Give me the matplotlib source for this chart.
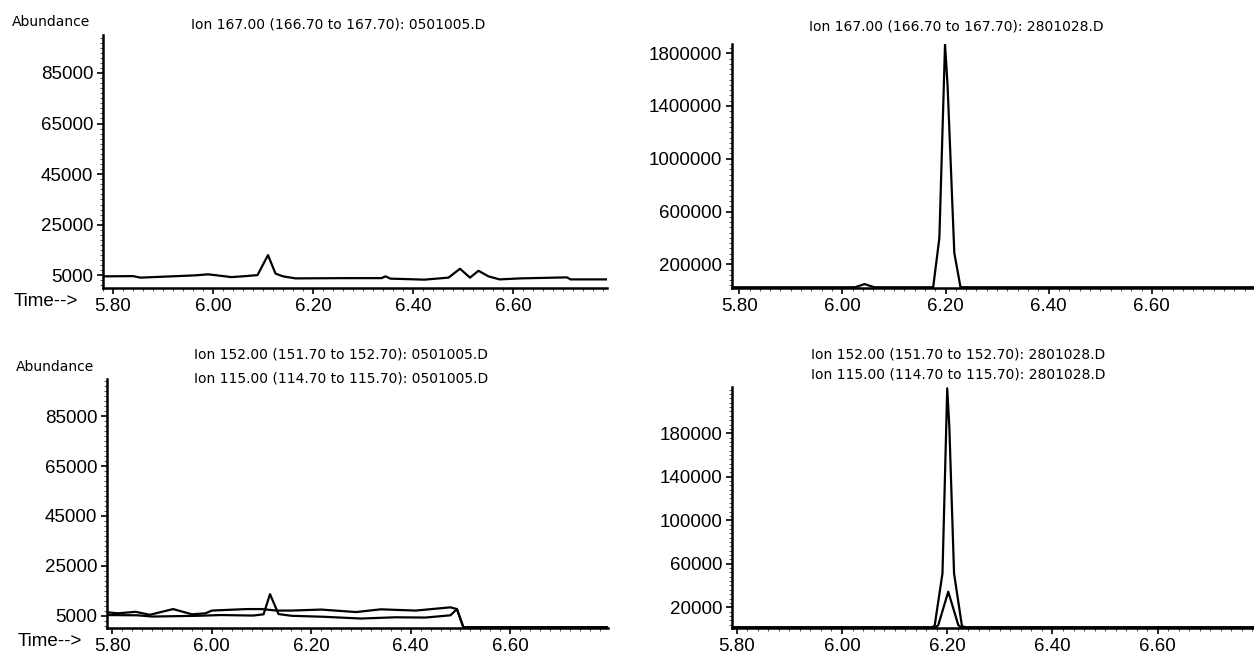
import numpy as np
import matplotlib
matplotlib.use('Agg')
import matplotlib.pyplot as plt
from matplotlib.ticker import MultipleLocator, FixedLocator, FuncFormatter

# ── data ──────────────────────────────────────────────────────
# top-left: ion 167, 0501005.D
t1 = [5.780, 5.840, 5.855, 5.965, 5.990, 6.008, 6.037, 6.065, 6.089, 6.110, 6.125,
      6.140, 6.165, 6.265, 6.337, 6.345, 6.355, 6.423, 6.471, 6.494, 6.514, 6.531,
      6.551, 6.573, 6.615, 6.708, 6.715, 6.788]
v1 = [4600, 4700, 4100, 5000, 5400, 5000, 4300, 4700, 5100, 13000, 5700,
      4600, 3800, 3900, 3900, 4600, 3700, 3300, 4100, 7600, 4100, 6800,
      4600, 3400, 3800, 4200, 3400, 3400]

# top-right: ion 167, 2801028.D
t2 = [5.786, 6.025, 6.034, 6.043, 6.052, 6.062, 6.176, 6.188, 6.199, 6.204, 6.217, 6.229, 6.798]
v2 = [25800, 25800, 38000, 50000, 38000, 25800, 25800, 397000, 1868000, 1550000, 286000, 25800, 25800]

# bottom-left: ions 152 / 115, 0501005.D
t3a = [5.789, 5.850, 5.880, 5.971, 6.018, 6.083, 6.104, 6.117, 6.134, 6.160, 6.226,
       6.300, 6.369, 6.430, 6.480, 6.493, 6.506, 6.797]
v3a = [5200, 5100, 4600, 4900, 5200, 5000, 5500, 13600, 5600, 4900, 4500,
       3800, 4300, 4200, 5100, 7600, 300, 300]
t3b = [5.789, 5.811, 5.847, 5.875, 5.922, 5.960, 5.987, 6.000, 6.070, 6.100, 6.130,
       6.160, 6.220, 6.290, 6.340, 6.410, 6.480, 6.493, 6.506, 6.797]
v3b = [6300, 5900, 6500, 5300, 7600, 5500, 5900, 7000, 7600, 7600, 7000,
       7000, 7400, 6400, 7500, 7000, 8300, 7600, 300, 300]

# bottom-right: ions 152 / 115, 2801028.D
t4a = [5.791, 6.170, 6.176, 6.191, 6.200, 6.204, 6.213, 6.228, 6.235, 6.783]
v4a = [1500, 1500, 2700, 51200, 221300, 186000, 51000, 2700, 1500, 1500]
t4b = [5.791, 6.178, 6.183, 6.202, 6.221, 6.226, 6.783]
v4b = [1500, 1500, 3600, 34300, 3600, 1500, 1500]

ticks_small = [5000, 25000, 45000, 65000, 85000]
ticks_tr = [200000, 600000, 1000000, 1400000, 1800000]
ticks_br = [20000, 60000, 100000, 140000, 180000]

W, H = 1254, 655
TICK_FONT = dict(family='Liberation Sans', size=13.5)
TEXT_FONT = dict(family='DejaVu Sans', size=10)

fig = plt.figure(figsize=(W / 100, H / 100), dpi=100)


def make_axes(left, right, top, bottom):
    return fig.add_axes([left / W, 1 - bottom / H, (right - left) / W, (bottom - top) / H])


def style(ax, xlim, ylim, yticks, yminor, yoff):
    ax.set_xlim(*xlim)
    ax.set_ylim(*ylim)
    for s in ['top', 'right']:
        ax.spines[s].set_visible(False)
    for s in ['left', 'bottom']:
        ax.spines[s].set_linewidth(1.8)
    ax.xaxis.set_major_locator(FixedLocator([5.8, 6.0, 6.2, 6.4, 6.6]))
    ax.xaxis.set_minor_locator(MultipleLocator(0.02))
    ax.xaxis.set_major_formatter(FuncFormatter(lambda v, p: f"{v:.2f}"))
    ax.yaxis.set_major_locator(FixedLocator(yticks))
    ax.yaxis.set_minor_locator(MultipleLocator(yminor, offset=yoff))
    ax.yaxis.set_major_formatter(FuncFormatter(lambda v, p: f"{v:.0f}"))
    ax.tick_params(which='major', direction='out', length=4, width=1.2, pad=3)
    ax.tick_params(which='minor', direction='out', length=2, width=0.7, color='#555555')
    for lab in ax.get_xticklabels() + ax.get_yticklabels():
        lab.set_fontfamily(TICK_FONT['family'])
        lab.set_fontsize(TICK_FONT['size'])


LW = 1.6

# ── top-left ──
ax1 = make_axes(103, 607, 35, 288)
ax1.plot(t1, v1, color='black', lw=LW)
style(ax1, (5.780, 6.788), (0, 100000), ticks_small, 2000, 1000)

# ── top-right ──
ax2 = make_axes(732, 1254, 44, 288)
ax2.plot(t2, v2, color='black', lw=LW)
style(ax2, (5.786, 6.798), (20000, 1870000), ticks_tr, 40000, 0)

# ── bottom-left ──
ax3 = make_axes(107, 608, 379, 628)
ax3.plot(t3b, v3b, color='black', lw=LW)
ax3.plot(t3a, v3a, color='black', lw=LW)
style(ax3, (5.789, 6.797), (0, 100000), ticks_small, 2000, 1000)

# ── bottom-right ──
ax4 = make_axes(732, 1254, 387, 628)
ax4.plot(t4a, v4a, color='black', lw=LW)
ax4.plot(t4b, v4b, color='black', lw=LW)
style(ax4, (5.791, 6.783), (900, 222500), ticks_br, 4000, 0)

# ── texts ──
def ftext(x, y, s, ha='center', font=TEXT_FONT):
    fig.text(x / W, 1 - y / H, s, ha=ha, va='center', **font)

ftext(12, 22, "Abundance", ha='left')
ftext(338, 25, "Ion 167.00 (166.70 to 167.70): 0501005.D")
ftext(956, 27, "Ion 167.00 (166.70 to 167.70): 2801028.D")
ftext(16, 367, "Abundance", ha='left')
ftext(341, 355, "Ion 152.00 (151.70 to 152.70): 0501005.D")
ftext(341, 378, "Ion 115.00 (114.70 to 115.70): 0501005.D")
ftext(958, 355, "Ion 152.00 (151.70 to 152.70): 2801028.D")
ftext(958, 374, "Ion 115.00 (114.70 to 115.70): 2801028.D")
ftext(14, 302, "Time-->", ha='left', font=TICK_FONT)
ftext(18, 642, "Time-->", ha='left', font=TICK_FONT)

fig.savefig("out.png", dpi=100, facecolor='white')
